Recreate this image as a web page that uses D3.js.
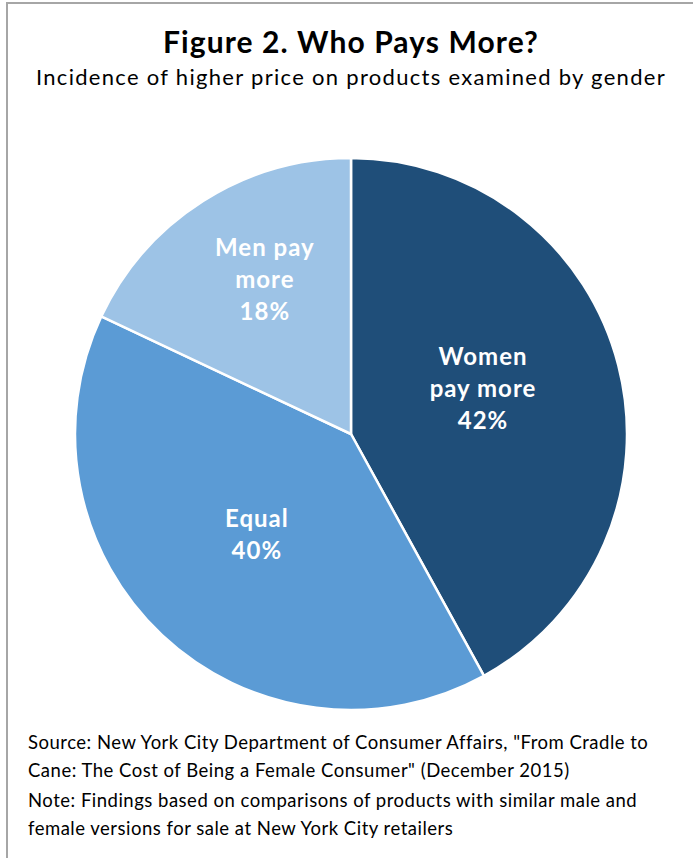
<!DOCTYPE html>
<html>
<head>
<meta charset="utf-8">
<script src="https://cdn.jsdelivr.net/npm/d3@7"></script>
<style>
  html, body { margin: 0; padding: 0; background: #fff; }
  svg { display: block; }
  text { font-family: Lato, "Open Sans", "Noto Sans", sans-serif; }
</style>
</head>
<body>
<svg id="chart" width="693" height="858"></svg>
<script>
// ---- data ----
const categories = ["Women pay more", "Equal", "Men pay more"];
const values = [42, 40, 18];
const labelLines = [["Women", "pay more", "42%"], ["Equal", "40%"], ["Men pay", "more", "18%"]];
const colors = ["#1F4E79", "#5B9BD5", "#9DC3E6"];
const title = "Figure 2. Who Pays More?";
const subtitle = "Incidence of higher price on products examined by gender";
const notes = [
  "Source: New York City Department of Consumer Affairs, \"From Cradle to",
  "Cane: The Cost of Being a Female Consumer\" (December 2015)",
  "Note: Findings based on comparisons of products with similar male and",
  "female versions for sale at New York City retailers"
];

// ---- layout ----
const svg = d3.select("#chart");
const W = 693, H = 858;
const cx = 351, cy = 434, R = 276;
const labelRadiusFactor = [0.504, 0.503, 0.636];
const labelAngleNudge = [-4, -0.5, 3]; // degrees

// border
svg.append("rect")
  .attr("x", 7).attr("y", 3)
  .attr("width", W + 10).attr("height", H + 10)
  .attr("fill", "none").attr("stroke", "#a6a6a6").attr("stroke-width", 2);

svg.append("text")
  .attr("x", 351).attr("y", 53)
  .attr("text-anchor", "middle")
  .attr("font-size", 30).attr("font-weight", "bold").attr("fill", "#000")
  .attr("letter-spacing", 1.1)
  .text(title);

svg.append("text")
  .attr("x", 351).attr("y", 85)
  .attr("text-anchor", "middle")
  .attr("font-size", 22).attr("fill", "#000")
  .attr("letter-spacing", 1.3)
  .text(subtitle);

const pie = d3.pie().sort(null).value(d => d)(values);
const arc = d3.arc().innerRadius(0).outerRadius(R);

const g = svg.append("g").attr("transform", `translate(${cx},${cy})`);
g.selectAll("path.slice")
  .data(pie)
  .join("path")
  .attr("class", "slice")
  .attr("d", arc)
  .attr("fill", (d, i) => colors[i])
  .attr("stroke", "#fff")
  .attr("stroke-width", 2.5)
  .attr("stroke-linejoin", "round");

const lineH = 32;
g.selectAll("text.lbl")
  .data(pie)
  .join("text")
  .attr("class", "lbl")
  .attr("text-anchor", "middle")
  .attr("fill", "#fff")
  .attr("font-weight", "bold")
  .attr("font-size", 24)
  .attr("letter-spacing", 1)
  .each(function (d, i) {
    const rr = R * labelRadiusFactor[i];
    const a = (d.startAngle + d.endAngle) / 2 + labelAngleNudge[i] * Math.PI / 180;
    const x = rr * Math.sin(a), y = -rr * Math.cos(a);
    const lines = labelLines[i];
    const t = d3.select(this);
    lines.forEach((ln, k) => {
      t.append("tspan")
        .attr("x", x)
        .attr("y", y + (k - (lines.length - 1) / 2) * lineH + 7)
        .text(ln);
    });
  });

const noteY = [749, 777, 807, 835];
svg.selectAll("text.note")
  .data(notes)
  .join("text")
  .attr("class", "note")
  .attr("x", 28)
  .attr("y", (d, i) => noteY[i])
  .attr("font-size", 18.5)
  .attr("letter-spacing", 0.5)
  .attr("fill", "#000")
  .text(d => d);
</script>
</body>
</html>
